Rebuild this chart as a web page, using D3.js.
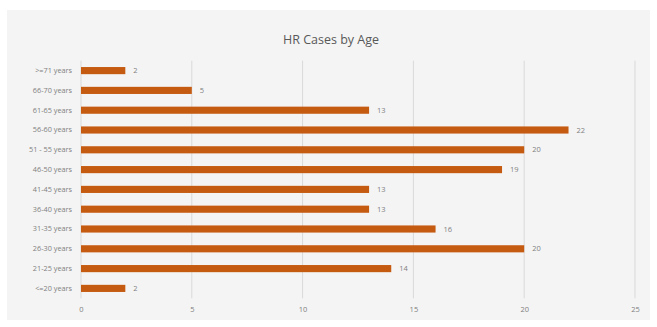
<!DOCTYPE html>
<html>
<head>
<meta charset="utf-8">
<script src="https://cdn.jsdelivr.net/npm/d3@7"></script>
<style>
  html, body { margin: 0; padding: 0; background: #ffffff; }
  svg { display: block; font-family: "Open Sans", "Noto Sans", sans-serif; }
</style>
</head>
<body>
<svg id="chart" width="657" height="327"></svg>
<script>
// Age bands, top to bottom
const categories = [">=71 years", "66-70 years", "61-65 years", "56-60 years", "51 - 55 years",
  "46-50 years", "41-45 years", "36-40 years", "31-35 years", "26-30 years", "21-25 years", "<=20 years"];
// Number of HR cases in each band
const cases = [2, 5, 13, 22, 20, 19, 13, 13, 16, 20, 14, 2];
// Value axis ticks
const xTicks = [0, 5, 10, 15, 20, 25];

const svg = d3.select("#chart");

// Chart area panel
svg.append("rect")
  .attr("x", 7).attr("y", 10).attr("width", 643).attr("height", 310)
  .attr("fill", "#f4f4f4");

svg.append("text")
  .attr("x", 331).attr("y", 44)
  .attr("text-anchor", "middle")
  .attr("font-size", 12.5)
  .attr("fill", "#595959")
  .text("HR Cases by Age");

const x = d3.scaleLinear().domain([0, 25]).range([81, 635]);
const y = d3.scaleBand().domain(categories).range([60.7, 298.3]).paddingInner(0.64).paddingOuter(0.32);

// Vertical gridlines
svg.append("g")
  .selectAll("line")
  .data(xTicks)
  .join("line")
  .attr("x1", d => x(d)).attr("x2", d => x(d))
  .attr("y1", 60.7).attr("y2", 298.3)
  .attr("stroke", "#d9d9d9").attr("stroke-width", 1);

// Value axis labels
const xAxis = d3.axisBottom(x).tickValues(xTicks).tickSize(0).tickPadding(0);
const gx = svg.append("g").attr("transform", "translate(0,307)").call(xAxis);
gx.select(".domain").remove();
gx.selectAll("text").attr("font-size", 7.5).attr("fill", "#7f7f7f").attr("font-family", "Open Sans, sans-serif");

// Category axis labels
const yAxis = d3.axisLeft(y).tickSize(0).tickPadding(9);
const gy = svg.append("g").attr("transform", "translate(81,0)").call(yAxis);
gy.select(".domain").remove();
gy.selectAll("text").attr("font-size", 7.3).attr("fill", "#7f7f7f").attr("font-family", "Open Sans, sans-serif");

// Bars
svg.append("g")
  .selectAll("rect")
  .data(categories)
  .join("rect")
  .attr("x", x(0))
  .attr("y", d => y(d))
  .attr("width", (d, i) => x(cases[i]) - x(0))
  .attr("height", y.bandwidth())
  .attr("fill", "#c55a11");

// Data labels
svg.append("g")
  .selectAll("text")
  .data(categories)
  .join("text")
  .attr("x", (d, i) => x(cases[i]) + 8)
  .attr("y", d => y(d) + y.bandwidth() / 2)
  .attr("dy", "0.35em")
  .attr("font-size", 7.5)
  .attr("fill", "#7f7f7f")
  .text((d, i) => cases[i]);
</script>
</body>
</html>
